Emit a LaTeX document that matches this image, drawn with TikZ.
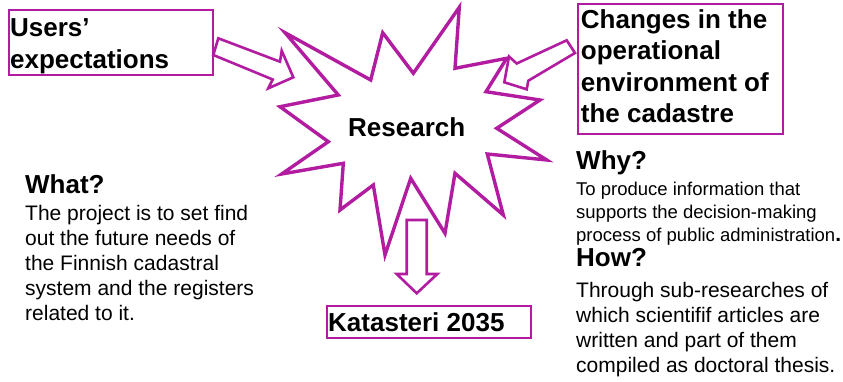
\documentclass[tikz,border=0pt]{standalone}
\usepackage{fontspec}
\setmainfont{Liberation Sans}
\definecolor{mag}{RGB}{178,28,160}
\newcommand{\mylines}[1]{\begin{tabular}[t]{@{}l@{}}#1\end{tabular}}
\tikzset{
  txt/.style={inner sep=0pt, anchor=base west, text=black},
  big/.style={font=\fontsize{26}{31.5}\selectfont\bfseries},
  body/.style={font=\fontsize{21}{25}\selectfont},
  small/.style={font=\fontsize{18.5}{23}\selectfont},
  frame/.style={draw=mag, line width=2pt},
  blockarrow/.style={draw=mag, line width=2.6pt, fill=white, line join=miter},
  starline/.style={draw=mag, line width=3.4pt, fill=white, line join=miter, miter limit=20},
}
\begin{document}
\begin{tikzpicture}[x=1pt,y=-1pt]
\useasboundingbox (0,0) rectangle (843,382);
% boxes
\draw[frame] (9,10) rectangle (213,75);
\draw[frame] (578,4) rectangle (783,134);
\draw[frame] (327,306) rectangle (531,338);
% star
\path[starline] (459.3,7.3) -- (455,68.3) -- (506.7,58.3) -- (486,91.7) -- (540,100) -- (496.7,128.3) -- (546.7,160) -- (487.3,154) -- (503.3,215) -- (455,173.3) -- (445,233.3) -- (410.7,178.3) -- (385,255) -- (373.3,185) -- (340,210) -- (343.3,163.3) -- (281.7,174) -- (328.3,141.7) -- (280,106.7) -- (338.3,95) -- (285,32.7) -- (370.7,80) -- (382.7,32.7) -- (413.3,73.3) -- cycle;
% block arrows
\path[blockarrow] (213.3,55) -- (218.3,38.3) -- (280,61.7) -- (281.7,50.7) -- (293.3,77.3) -- (268.3,88.3) -- (272.7,79.5) -- cycle;
\path[blockarrow] (566.7,40.3) -- (575,53) -- (528.3,80.7) -- (526.7,89.3) -- (504.3,82.3) -- (509,56.5) -- (516.7,63.5) -- cycle;
\path[blockarrow] (406.7,220) -- (426.7,220) -- (426.7,274) -- (437.3,274) -- (416.7,293.3) -- (396.7,274) -- (406.7,274) -- cycle;
% texts
\node[txt,big] (users) at (10,37) {\mylines{Users’\\expectations}};
\node[txt,big] (changes) at (580.7,28.5) {\mylines{Changes in the\\operational\\environment of\\the cadastre}};
\node[txt,big] (research) at (348,136.7) {Research};
\node[txt,big] (kat) at (328,331.5) {Katasteri 2035};
\node[txt,big] (what) at (25,194) {What?};
\node[txt,body] (whatbody) at (25,220.5) {\mylines{The project is to set find\\out the future needs of\\the Finnish cadastral\\system and the registers\\related to it.}};
\node[txt,big] (why) at (576,169.5) {Why?};
\node[txt,small] (whybody) at (576,195.5) {\mylines{To produce information that\\supports the decision-making\\process of public administration{\fontsize{21}{25}\selectfont\bfseries .}}};
\node[txt,big] (how) at (576,266.5) {How?};
\node[txt,body] (howbody) at (576,297.5) {\mylines{Through sub-researches of\\which scientifif articles are\\written and part of them\\compiled as doctoral thesis.}};
\end{tikzpicture}
\end{document}
